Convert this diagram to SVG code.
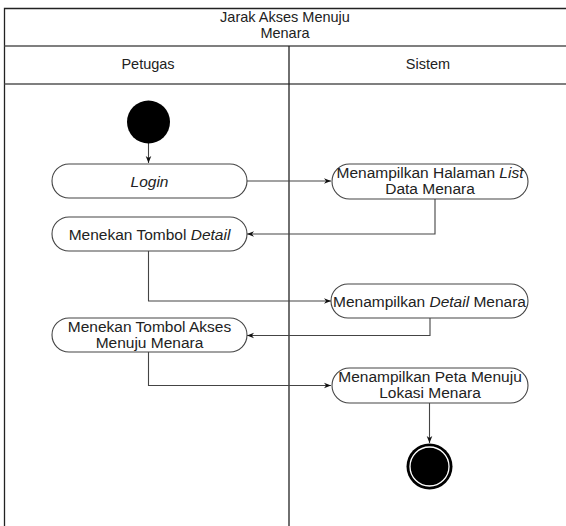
<svg xmlns="http://www.w3.org/2000/svg" width="566" height="526" viewBox="0 0 566 526">
<style>
.lane{fill:none;stroke:#222;stroke-width:1.3}
.sep{stroke:#555;stroke-width:1.3}
.act{fill:#fff;stroke:#444;stroke-width:1.1}
.t{font-family:"Liberation Sans",Arial,sans-serif;font-size:15.5px;fill:#222;text-anchor:middle}
.h{font-size:14.5px}
.edge{fill:none;stroke:#444;stroke-width:1.1}
</style>
<defs>
<marker id="ah" viewBox="0 0 10 10" refX="10" refY="5" markerWidth="7" markerHeight="7" orient="auto" markerUnits="userSpaceOnUse">
<path d="M0,1 L10,5 L0,9 L3,5 Z" fill="#111"/>
</marker>
</defs>
<rect width="566" height="526" fill="#fff"/>
<g id="swimlane">
<path class="lane" d="M566,8.5 H4.5 V526"/>
<line class="sep" x1="4.5" y1="46" x2="566" y2="46"/>
<line class="sep" x1="4.5" y1="84" x2="566" y2="84"/>
<line class="lane" x1="289" y1="46" x2="289" y2="526"/>
<text class="t h" x="285" y="22">Jarak Akses Menuju</text>
<text class="t h" x="285" y="38">Menara</text>
<text class="t h" x="148" y="69">Petugas</text>
<text class="t h" x="428" y="69">Sistem</text>
</g>
<g id="connectors">
<path class="edge" d="M148.5,143 V163" marker-end="url(#ah)"/>
<path class="edge" d="M247,181 H331" marker-end="url(#ah)"/>
<path class="edge" d="M435,199 V234 H247" marker-end="url(#ah)"/>
<path class="edge" d="M148.5,251 V301 H331" marker-end="url(#ah)"/>
<path class="edge" d="M430,318 V335.5 H247" marker-end="url(#ah)"/>
<path class="edge" d="M148.5,352 V385.5 H331" marker-end="url(#ah)"/>
<path class="edge" d="M429.5,403 V443" marker-end="url(#ah)"/>
</g>
<g id="start"><circle cx="148.5" cy="122" r="21.5" fill="#000"/></g>
<g id="login">
<rect class="act" x="52" y="164" width="195" height="34" rx="17"/>
<text class="t" x="149.5" y="186.5" font-style="italic">Login</text>
</g>
<g id="tampil-list">
<rect class="act" x="332" y="164" width="196" height="35" rx="17.5"/>
<text class="t" x="430" y="178">Menampilkan Halaman <tspan font-style="italic">List</tspan></text>
<text class="t" x="430" y="194">Data Menara</text>
</g>
<g id="tombol-detail">
<rect class="act" x="52" y="217" width="195" height="34" rx="17"/>
<text class="t" x="149.5" y="239.5">Menekan Tombol <tspan font-style="italic">Detail</tspan></text>
</g>
<g id="tampil-detail">
<rect class="act" x="331" y="284" width="197" height="34" rx="17"/>
<text class="t" x="429.5" y="306.5">Menampilkan <tspan font-style="italic">Detail</tspan> Menara</text>
</g>
<g id="tombol-akses">
<rect class="act" x="52" y="318" width="195" height="34" rx="17"/>
<text class="t" x="149.5" y="332">Menekan Tombol Akses</text>
<text class="t" x="149.5" y="348">Menuju Menara</text>
</g>
<g id="tampil-peta">
<rect class="act" x="332" y="368" width="196" height="35" rx="17.5"/>
<text class="t" x="430" y="382">Menampilkan Peta Menuju</text>
<text class="t" x="430" y="398">Lokasi Menara</text>
</g>
<g id="end">
<circle cx="429.5" cy="466.5" r="23" fill="#000"/>
<circle cx="429.5" cy="466.5" r="19.5" fill="none" stroke="#fff" stroke-width="1.3"/>
</g>
</svg>
